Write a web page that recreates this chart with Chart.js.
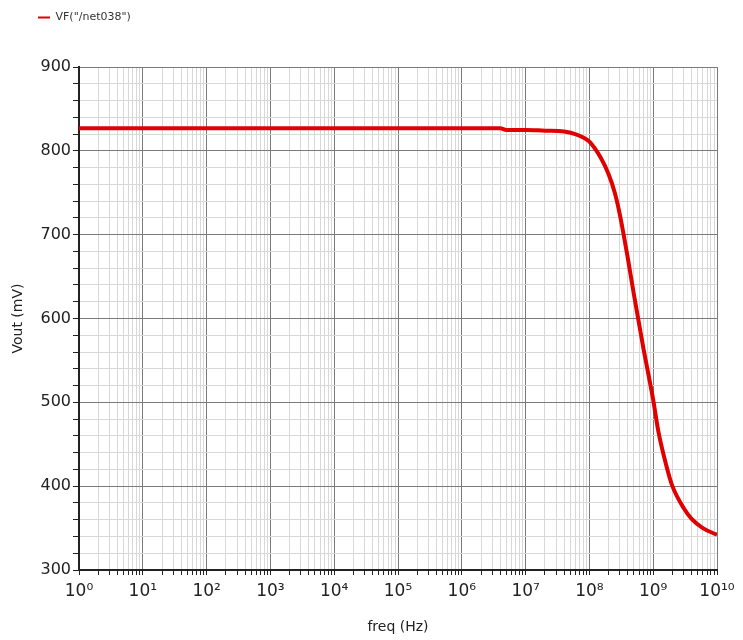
<!DOCTYPE html>
<html>
<head>
<meta charset="utf-8">
<script src="https://cdn.jsdelivr.net/npm/chart.js@4.4.1/dist/chart.umd.min.js"></script>
<style>
  html, body { margin: 0; padding: 0; background: #fff; }
  #wrap { width: 743px; height: 640px; }
</style>
</head>
<body>
<div id="wrap"><canvas id="vfplot"></canvas></div>
<script>
// frequency sweep (Hz) and output voltage (mV)
const freq = [1, 1e1, 1e2, 1e3, 1e4, 1e5, 1e6, 4e6, 5e6, 1e7, 2e7, 4e7, 6e7, 8e7,
              1e8, 1.5e8, 2e8, 2.5e8, 3e8, 4e8, 5e8, 6e8, 7e8, 8e8,
              1e9, 1.2e9, 1.6e9, 2e9, 3e9, 4e9, 6e9, 1e10];
const vout = [827, 827, 827, 827, 827, 827, 827, 827, 825, 825, 824, 823, 820, 816,
              811, 792, 772, 750, 724, 672, 628, 594, 565, 542,
              503, 466, 425, 400, 374, 361, 350, 342];
const seriesName = 'VF("/net038")';
const yTicks = [300, 400, 500, 600, 700, 800, 900];
const xDecades = [0, 1, 2, 3, 4, 5, 6, 7, 8, 9, 10];

const sup = {'0':'\u2070','1':'\u00b9','2':'\u00b2','3':'\u00b3','4':'\u2074','5':'\u2075','6':'\u2076','7':'\u2077','8':'\u2078','9':'\u2079'};
function isDecade(v) {
  const l = Math.log10(v);
  return Math.abs(l - Math.round(l)) < 1e-9;
}

// push the plot down below the legend and move the legend right, like the original
const legendSpacer = {
  id: 'legendSpacer',
  beforeInit(chart) {
    const fit = chart.legend.fit;
    chart.legend.fit = function () {
      fit.call(this);
      this.height += 34;
    };
  },
  afterLayout(chart) {
    chart.legend.left += 28;
    chart.legend.right += 28;
  }
};

const ctx = document.getElementById('vfplot').getContext('2d');
const chart = new Chart(ctx, {
  type: 'line',
  data: {
    datasets: [{
      label: seriesName,
      data: freq.map((f, i) => ({x: f, y: vout[i]})),
      borderColor: '#e00000',
      backgroundColor: '#e00000',
      borderWidth: 4,
      pointRadius: 0,
      cubicInterpolationMode: 'monotone'
    }]
  },
  options: {
    responsive: true,
    maintainAspectRatio: false,
    animation: false,
    layout: { padding: { left: 0, right: 26, top: 2, bottom: 0 } },
    plugins: {
      legend: {
        position: 'top',
        align: 'start',
        labels: {
          boxWidth: 12,
          boxHeight: 2,
          color: '#333',
          font: { family: 'DejaVu Sans', size: 11 },
          padding: 10,
          generateLabels: c => Chart.defaults.plugins.legend.labels.generateLabels(c).map(l => {
            l.lineWidth = 0;
            l.strokeStyle = 'rgba(0,0,0,0)';
            return l;
          })
        }
      },
      tooltip: { enabled: false }
    },
    scales: {
      x: {
        type: 'logarithmic',
        min: 1,
        max: 1e10,
        afterFit: s => { s.height = 70; },
        afterBuildTicks: s => {
          const t = [];
          xDecades.forEach(d => {
            if (d === 10) { t.push({value: 1e10}); return; }
            for (let m = 1; m <= 9; m++) t.push({value: m * Math.pow(10, d)});
          });
          s.ticks = t;
        },
        ticks: {
          autoSkip: false,
          maxRotation: 0,
          color: '#222',
          font: { family: 'DejaVu Sans', size: 17 },
          padding: 6,
          callback: v => isDecade(v) ? '10' + String(Math.round(Math.log10(v))).split('').map(c => sup[c]).join('') : ''
        },
        grid: {
          color: c => isDecade(c.tick.value) ? '#7a7a7a' : '#d8d8d8',
          lineWidth: 1,
          tickLength: 5,
          tickColor: '#222'
        },
        border: { color: '#222', width: 2 },
        title: {
          display: true,
          text: 'freq (Hz)',
          color: '#222',
          font: { family: 'DejaVu Sans', size: 14 },
          padding: { top: 0 }
        }
      },
      y: {
        min: 300,
        max: 900,
        afterFit: s => { s.width = 79; },
        ticks: {
          stepSize: 20,
          autoSkip: false,
          color: '#222',
          font: { family: 'DejaVu Sans', size: 16 },
          padding: 2,
          callback: v => yTicks.includes(v) ? String(v) : ''
        },
        grid: {
          color: c => yTicks.includes(c.tick.value) ? '#7a7a7a' : '#d8d8d8',
          lineWidth: 1,
          tickLength: 6,
          tickColor: '#222'
        },
        border: { color: '#222', width: 2 },
        title: {
          display: true,
          text: 'Vout (mV)',
          color: '#222',
          font: { family: 'DejaVu Sans', size: 14 },
          padding: { top: 10, bottom: 0 }
        }
      }
    }
  },
  plugins: [legendSpacer]
});
</script>
</body>
</html>
